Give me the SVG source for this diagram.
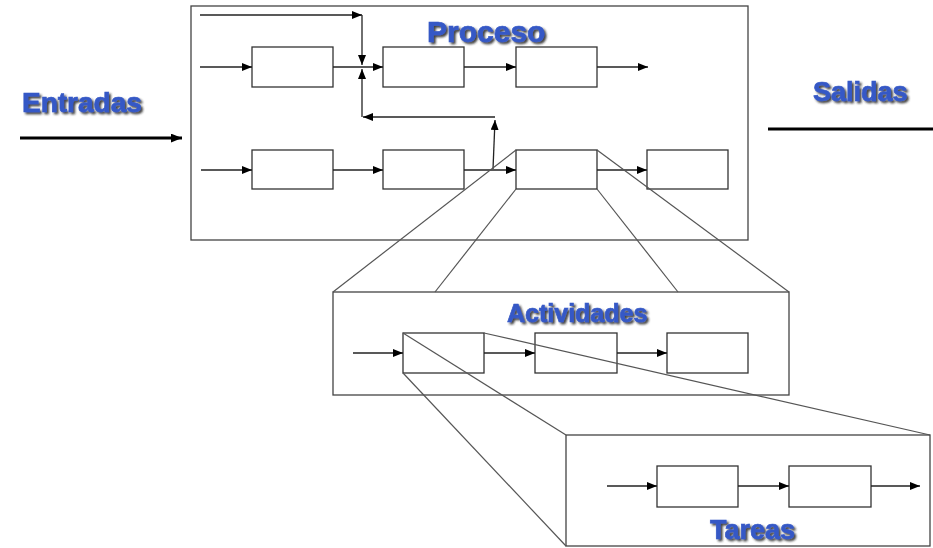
<svg xmlns="http://www.w3.org/2000/svg" width="933" height="548" viewBox="0 0 933 548">
  <style>
    .frame { fill: #fff; stroke: #444; stroke-width: 1.3; }
    .box { fill: #fff; stroke: #333; stroke-width: 1.3; }
    .link { fill: none; stroke: #222; stroke-width: 1.3; }
    .proj { fill: none; stroke: #555; stroke-width: 1.2; }
    .thick { fill: none; stroke: #000; stroke-width: 3; }
    .title { font-family: "Liberation Sans", Arial, sans-serif; font-weight: bold; fill: #3659c6; stroke: #3659c6; stroke-width: 0.7; filter: url(#shadow); }
  </style>
  <defs>
    <marker id="arr" viewBox="0 0 10 8" refX="10" refY="4" markerWidth="10" markerHeight="8" markerUnits="userSpaceOnUse" orient="auto">
      <path d="M0,0 L10,4 L0,8 Z" fill="#000"/>
    </marker>
    <marker id="arrBig" viewBox="0 0 10 8" refX="10" refY="4" markerWidth="11" markerHeight="9" markerUnits="userSpaceOnUse" orient="auto">
      <path d="M0,0 L10,4 L0,8 Z" fill="#000"/>
    </marker>
    <filter id="shadow" x="-10%" y="-20%" width="130%" height="160%">
      <feDropShadow dx="2" dy="2" stdDeviation="0.8" flood-color="#222" flood-opacity="0.85"/>
    </filter>
  </defs>

  <!-- Inputs / outputs outside the process -->
  <g id="entradas">
    <text class="title" x="22" y="112" font-size="28">Entradas</text>
    <line class="thick" x1="20" y1="138" x2="182" y2="138" marker-end="url(#arrBig)"/>
  </g>
  <g id="salidas">
    <text class="title" x="813" y="101" font-size="27">Salidas</text>
    <line class="thick" x1="768" y1="129" x2="933" y2="129"/>
  </g>

  <!-- Process level -->
  <g id="proceso">
    <rect class="frame" x="191" y="6" width="557" height="234"/>
    <text class="title" x="427" y="42" font-size="30">Proceso</text>
  </g>
  <g id="p1"><rect class="box" x="252" y="47" width="81" height="40"/></g>
  <g id="p2"><rect class="box" x="383" y="47" width="81" height="40"/></g>
  <g id="p3"><rect class="box" x="516" y="47" width="81" height="40"/></g>
  <g id="p4"><rect class="box" x="252" y="150" width="81" height="39"/></g>
  <g id="p5"><rect class="box" x="383" y="150" width="81" height="39"/></g>
  <g id="p6"><rect class="box" x="516" y="150" width="81" height="39"/></g>
  <g id="p7"><rect class="box" x="647" y="150" width="81" height="39"/></g>

  <!-- Activity level -->
  <g id="actividades">
    <rect class="frame" x="333" y="292" width="456" height="103"/>
    <text class="title" x="507" y="322" font-size="25">Actividades</text>
  </g>
  <g id="a1"><rect class="box" x="403" y="333" width="81" height="40"/></g>
  <g id="a2"><rect class="box" x="535" y="333" width="82" height="40"/></g>
  <g id="a3"><rect class="box" x="667" y="333" width="81" height="40"/></g>

  <!-- Task level -->
  <g id="tareas">
    <rect class="frame" x="566" y="435" width="364" height="111"/>
    <text class="title" x="710" y="539" font-size="27">Tareas</text>
  </g>
  <g id="t1"><rect class="box" x="657" y="466" width="81" height="41"/></g>
  <g id="t2"><rect class="box" x="789" y="466" width="82" height="41"/></g>

  <g id="connectors">
    <!-- process, upper row -->
    <line class="link" x1="200" y1="15" x2="362" y2="15" marker-end="url(#arr)"/>
    <line class="link" x1="362" y1="15" x2="362" y2="65" marker-end="url(#arr)"/>
    <line class="link" x1="200" y1="67" x2="252" y2="67" marker-end="url(#arr)"/>
    <line class="link" x1="333" y1="67" x2="383" y2="67" marker-end="url(#arr)"/>
    <line class="link" x1="464" y1="67" x2="516" y2="67" marker-end="url(#arr)"/>
    <line class="link" x1="597" y1="67" x2="648" y2="67" marker-end="url(#arr)"/>
    <!-- feedback loop -->
    <line class="link" x1="362" y1="117" x2="362" y2="69" marker-end="url(#arr)"/>
    <line class="link" x1="495" y1="117" x2="363" y2="117" marker-end="url(#arr)"/>
    <line class="link" x1="493" y1="169" x2="495" y2="120" marker-end="url(#arr)"/>
    <!-- process, lower row -->
    <line class="link" x1="201" y1="170" x2="252" y2="170" marker-end="url(#arr)"/>
    <line class="link" x1="333" y1="170" x2="383" y2="170" marker-end="url(#arr)"/>
    <line class="link" x1="464" y1="170" x2="516" y2="170" marker-end="url(#arr)"/>
    <line class="link" x1="597" y1="170" x2="647" y2="170" marker-end="url(#arr)"/>
    <!-- activities row -->
    <line class="link" x1="353" y1="353" x2="403" y2="353" marker-end="url(#arr)"/>
    <line class="link" x1="484" y1="353" x2="535" y2="353" marker-end="url(#arr)"/>
    <line class="link" x1="617" y1="353" x2="667" y2="353" marker-end="url(#arr)"/>
    <!-- tasks row -->
    <line class="link" x1="607" y1="486" x2="657" y2="486" marker-end="url(#arr)"/>
    <line class="link" x1="738" y1="486" x2="789" y2="486" marker-end="url(#arr)"/>
    <line class="link" x1="871" y1="486" x2="920" y2="486" marker-end="url(#arr)"/>
    <!-- zoom projection lines -->
    <line class="proj" x1="516" y1="150" x2="333" y2="292"/>
    <line class="proj" x1="516" y1="189" x2="435" y2="292"/>
    <line class="proj" x1="597" y1="150" x2="789" y2="292"/>
    <line class="proj" x1="597" y1="189" x2="678" y2="292"/>
    <line class="proj" x1="403" y1="333" x2="566" y2="435"/>
    <line class="proj" x1="403" y1="373" x2="566" y2="546"/>
    <line class="proj" x1="484" y1="333" x2="930" y2="435"/>
  </g>
</svg>
